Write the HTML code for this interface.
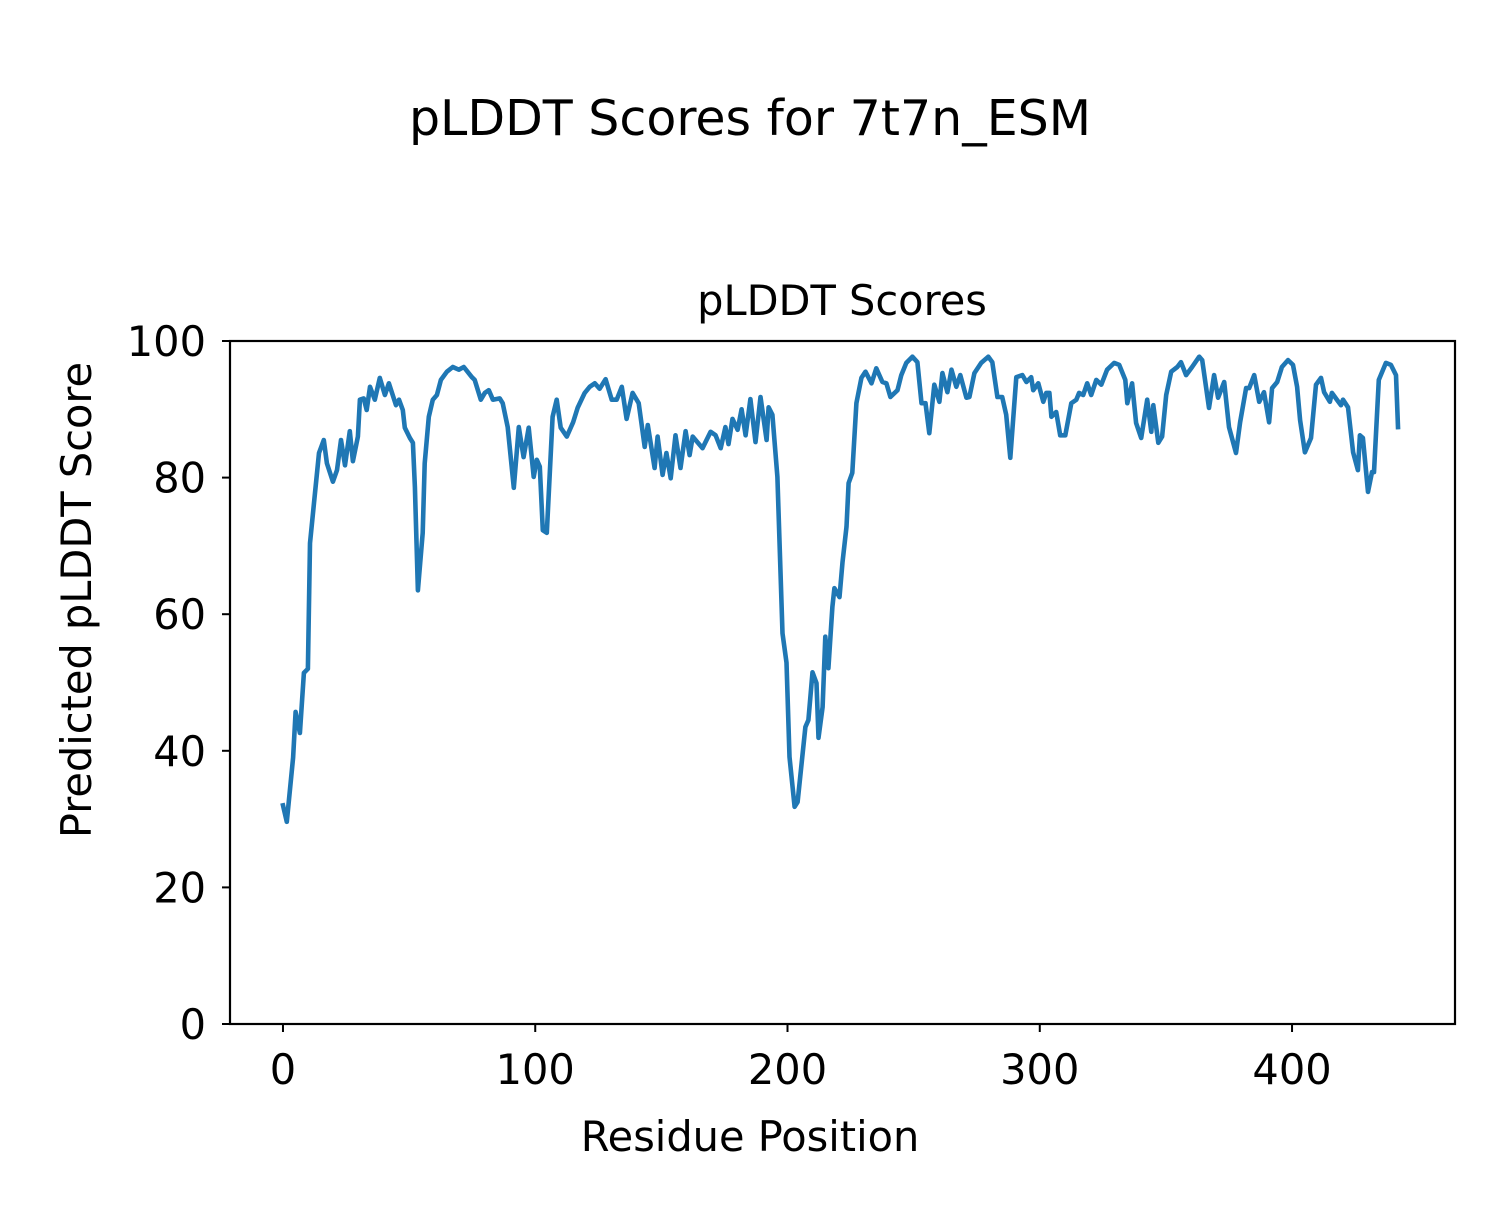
<!DOCTYPE html>
<html><head><meta charset="utf-8"><style>
html,body{margin:0;padding:0;background:#fff;}
svg text{font-family:"DejaVu Sans","Liberation Sans",sans-serif;fill:#000;}
</style></head><body>
<svg id="chart" width="1500" height="1200" viewBox="0 0 1500 1200" xmlns="http://www.w3.org/2000/svg">
<rect width="1500" height="1200" fill="#fff"/>
<text x="750" y="135" font-size="49" text-anchor="middle">pLDDT Scores for 7t7n_ESM</text>
<text x="842" y="315" font-size="41.5" text-anchor="middle">pLDDT Scores</text>
<g id="plot"></g>
<rect x="230" y="341" width="1225" height="683" fill="none" stroke="#000" stroke-width="2.2"/>
<text x="750" y="1151" font-size="41.5" text-anchor="middle">Residue Position</text>
<text transform="translate(91,600) rotate(-90)" font-size="41.5" text-anchor="middle">Predicted pLDDT Score</text>
</svg>
<script>
const residues=[0,1.5,4,5,6.7,8.3,9.9,10.7,12.3,14.3,16.2,17.4,19.8,21.4,23,24.6,26.5,27.7,29.7,30.5,32,33.2,34.5,36.4,38.4,40.4,42,44.8,46,47.5,48.3,50.3,51.5,52.3,53.5,55.4,56.2,57.8,59.4,61,62.6,65,67.3,69.7,71.7,74.9,76,78.4,80,81.6,83.2,85.9,87.1,89.1,91.5,93.5,95.4,97.4,99.4,100.6,101.8,103,104.6,106.9,108.5,110.1,112.5,115,116.8,119.6,121.6,123.6,125.5,127.9,130.3,132.3,134.3,136.2,138.6,141,143.4,144.6,147.3,148.5,150.5,152,153.7,155.6,157.6,159.6,161.2,162.4,166.3,169.5,171.5,173.5,175.4,176.6,178.2,180.2,181.8,183.4,185.3,187.3,189.3,191.7,192.5,194,196,198,199.6,200.8,202.8,204,207.1,208.3,209.9,211.5,212.3,213.9,215,216.2,217.8,218.6,220.6,221.8,223.4,224.2,225.7,227.3,229.3,230.9,233.3,235.2,237.6,239.2,240.8,243.6,245.1,247.1,249.5,251.5,253.1,254.7,256.2,258.2,260.2,261.4,263.4,265,266.9,268.5,270.9,272.1,274.1,276.8,279.6,281.2,283.2,285.1,286.7,288.3,290.7,293.1,294.7,296.6,297.4,299.4,301.4,302.6,303.8,304.6,306.5,308.1,310.1,312.5,314.5,315.6,317.2,318.8,320.4,322.4,324.4,326.7,329.5,331.5,333.9,334.7,336.6,338.2,340.2,342.6,344.2,345,347,348.5,350.1,352.1,354.5,356,358,360.4,363.2,364.4,367.1,369.1,370.7,373.1,375,377.8,379.4,381.8,383,385,387,388.9,390.9,392.1,394.1,396,398.4,400.4,402,403.2,405.1,407.5,409.5,411.5,412.7,415,415.8,417.8,419.4,420.2,422.2,424.2,426.1,426.9,428.1,430.1,431.7,432.5,434.4,437.2,439.2,441.2,442];
const scores=[32,29.6,39,45.7,42.6,51.4,52,70.4,76.3,83.6,85.5,82.1,79.4,81.1,85.5,81.8,86.8,82.4,86,91.4,91.6,89.9,93.3,91.4,94.6,92.1,93.8,90.6,91.4,89.9,87.3,85.8,85.1,78.6,63.5,71.9,82.1,88.9,91.4,92.1,94.3,95.5,96.2,95.8,96.2,94.7,94.3,91.4,92.4,92.8,91.4,91.6,90.9,87.4,78.5,87.4,83,87.3,80.1,82.6,81.6,72.3,71.9,88.9,91.4,87.3,86,88.1,90.2,92.4,93.3,93.8,93,94.4,91.4,91.4,93.3,88.6,92.4,90.9,84.5,87.7,81.4,86,80.4,83.6,79.9,86.2,81.4,86.8,83.3,86,84.3,86.7,86.2,84.3,87.4,84.9,88.6,87,90,86.2,91.5,85.2,91.8,85.5,90.3,89.2,80.1,57.2,52.9,39.1,31.8,32.5,43.5,44.5,51.5,49.9,41.9,46.4,56.7,52.1,61.1,63.8,62.5,67.6,72.8,79.2,80.7,90.9,94.6,95.5,93.8,96,94,93.8,91.8,92.8,95,96.8,97.7,96.9,90.9,90.9,86.5,93.6,91.1,95.3,92.5,95.8,93.3,95,91.7,91.8,95.3,96.8,97.7,96.9,91.8,91.8,89.2,82.9,94.7,95,94,94.7,92.8,93.8,91.1,92.4,92.4,88.9,89.6,86.2,86.2,90.9,91.4,92.4,92.1,93.8,92.1,94.3,93.6,95.8,96.8,96.5,94.3,90.9,93.8,88,85.8,91.4,86.7,90.6,85.1,86,92.1,95.5,96.2,96.9,95,96.2,97.7,97.2,90.2,95,91.7,94,87.4,83.6,88.1,93.1,93.1,95,91.1,92.5,88.1,93.1,94,96.2,97.2,96.5,93.3,88.4,83.7,85.8,93.6,94.6,92.5,91.1,92.4,91.4,90.6,91.4,90.3,83.7,81.1,86.2,85.8,77.9,80.8,80.8,94.3,96.8,96.5,95,87.4];
const xTicks=[0,100,200,300,400];
const yTicks=[0,20,40,60,80,100];
const X0=230,X1=1455,Y0=1024,Y1=341,xmin=-21.0,xmax=464.6,ymin=0,ymax=100;
function xs(v){return X0+(v-xmin)/(xmax-xmin)*(X1-X0);}
function ys(v){return Y0-(v-ymin)/(ymax-ymin)*(Y0-Y1);}
const NS="http://www.w3.org/2000/svg";
const g=document.getElementById('plot');
const pts=residues.map((r,i)=>xs(r).toFixed(1)+','+ys(scores[i]).toFixed(1)).join(' ');
const line=document.createElementNS(NS,'polyline');


line.setAttribute('points',pts);
line.setAttribute('fill','none');line.setAttribute('stroke','#1f77b4');
line.setAttribute('stroke-width','4.6');line.setAttribute('stroke-linejoin','round');line.setAttribute('stroke-linecap','square');
g.appendChild(line);
xTicks.forEach(t=>{
 const l=document.createElementNS(NS,'line');
 
 
 l.setAttribute('x1',xs(t));l.setAttribute('x2',xs(t));l.setAttribute('y1',Y0);l.setAttribute('y2',Y0+8);
 l.setAttribute('stroke','#000');l.setAttribute('stroke-width','2');g.appendChild(l);
 const tx=document.createElementNS(NS,'text');
 
 
 tx.setAttribute('x',xs(t));tx.setAttribute('y',Y0+60);tx.setAttribute('font-size','41.5');tx.setAttribute('text-anchor','middle');
 tx.textContent=t;g.appendChild(tx);
});
yTicks.forEach(t=>{
 const l=document.createElementNS(NS,'line');
 
 
 l.setAttribute('x1',X0-8);l.setAttribute('x2',X0);l.setAttribute('y1',ys(t));l.setAttribute('y2',ys(t));
 l.setAttribute('stroke','#000');l.setAttribute('stroke-width','2');g.appendChild(l);
 const tx=document.createElementNS(NS,'text');
 
 
 tx.setAttribute('x',X0-24);tx.setAttribute('y',ys(t)+15);tx.setAttribute('font-size','41.5');tx.setAttribute('text-anchor','end');
 tx.textContent=t;g.appendChild(tx);
});
</script>
</body></html>
